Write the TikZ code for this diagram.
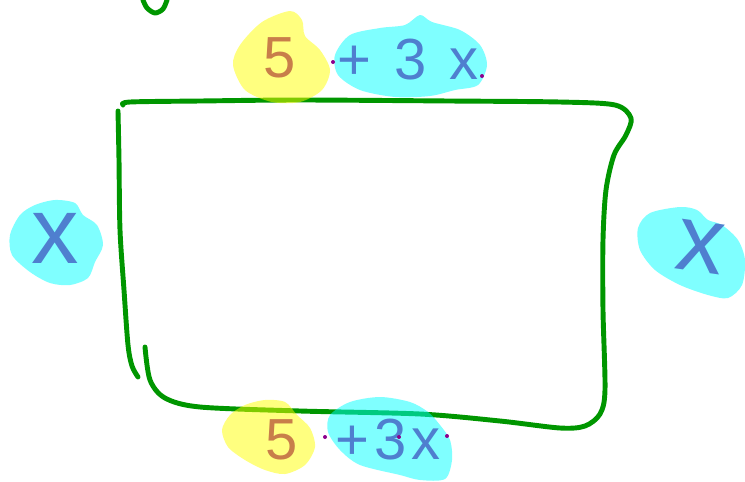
\documentclass[tikz,border=0pt]{standalone}
\usepackage{fontspec}
\setmainfont{Liberation Sans}
\definecolor{inkgreen}{RGB}{0,150,0}
\definecolor{inkorange}{RGB}{200,126,74}
\definecolor{inkblue}{RGB}{79,127,207}
\definecolor{inkpurple}{RGB}{140,0,140}
\definecolor{markyellow}{RGB}{255,255,0}
\definecolor{markcyan}{RGB}{0,255,255}
\tikzset{
  greenline/.style={draw=inkgreen, line width=2.8pt, line cap=round, line join=round},
  hiyellow/.style={fill=markyellow, fill opacity=0.5},
  hicyan/.style={fill=markcyan, fill opacity=0.5},
  fivetext/.style={text=inkorange, font=\fontsize{33}{36}\selectfont},
  termtext/.style={text=inkblue, font=\fontsize{33}{36}\selectfont},
  xtext/.style={text=inkblue, font=\fontsize{54}{60}\selectfont},
  inkdot/.style={fill=inkpurple}
}

\begin{document}
\begin{tikzpicture}[x=0.02cm, y=-0.02cm]
  \useasboundingbox (0,0) rectangle (745,481);
  \draw[greenline] plot[smooth] coordinates {(143,0) (147,8) (155,13) (163,9) (167,0)};
  \draw[greenline] plot[smooth] coordinates {(118,111) (119,160) (120,230) (124,290) (128,345) (132,366) (138,377)};
  \draw[greenline] plot[smooth, tension=0.5] coordinates {(123,105) (130,102) (200,101) (300,100) (450,101) (560,102) (615,105) (631,118) (626,135) (614,155) (606,190) (603,240) (603,310) (605,390) (600,414) (585,426) (560,428) (500,421) (420,414) (300,411) (200,407) (165,398) (150,380) (145,347)};
  \fill[hiyellow] plot[smooth cycle] coordinates {(290,11) (302,20) (305,36) (320,50) (330,70) (322,90) (300,102) (272,102) (245,90) (233,65) (240,45) (262,22)};
  \fill[hicyan] plot[smooth cycle] coordinates {(420,15) (432,22) (460,30) (480,45) (487,65) (478,85) (455,90) (430,96) (395,97) (360,90) (338,75) (335,55) (350,35) (380,28) (405,25)};
  \fill[hicyan] plot[smooth cycle] coordinates {(55,200) (75,203) (83,215) (97,225) (103,245) (95,262) (88,278) (70,285) (50,283) (30,272) (12,255) (10,235) (20,215) (35,205)};
  \fill[hicyan] plot[smooth cycle] coordinates {(680,207) (697,210) (708,220) (722,225) (738,240) (745,260) (742,285) (728,298) (708,295) (680,285) (655,270) (640,250) (638,228) (650,213)};
  \fill[hiyellow] plot[smooth cycle] coordinates {(265,400) (285,402) (297,415) (310,428) (315,447) (305,465) (285,474) (265,470) (245,460) (228,447) (222,430) (230,415) (245,405)};
  \fill[hicyan] plot[smooth cycle] coordinates {(380,397) (410,402) (428,412) (440,425) (450,440) (452,460) (445,479) (420,480) (400,475) (360,465) (340,450) (328,432) (330,415) (350,402)};
  \node[fivetext] (topfive) at (280,58) {5};
  \node[termtext] (topterm) at (408,60) {+\hspace{13pt}3\hspace{13pt}x};
  \node[xtext] (leftx) at (55,238) {x};
  \node[xtext, rotate=-8] (rightx) at (700,247) {x};
  \node[fivetext] (botfive) at (282,440) {5};
  \node[termtext] (botterm) at (388,440) {+\hspace{3pt}3\hspace{3pt}x};
  \fill[inkdot] (333,62) circle (2);
  \fill[inkdot] (482,76) circle (2);
  \fill[inkdot] (325,437) circle (2);
  \fill[inkdot] (399,437) circle (2);
  \fill[inkdot] (447,436) circle (2);
\end{tikzpicture}
\end{document}
